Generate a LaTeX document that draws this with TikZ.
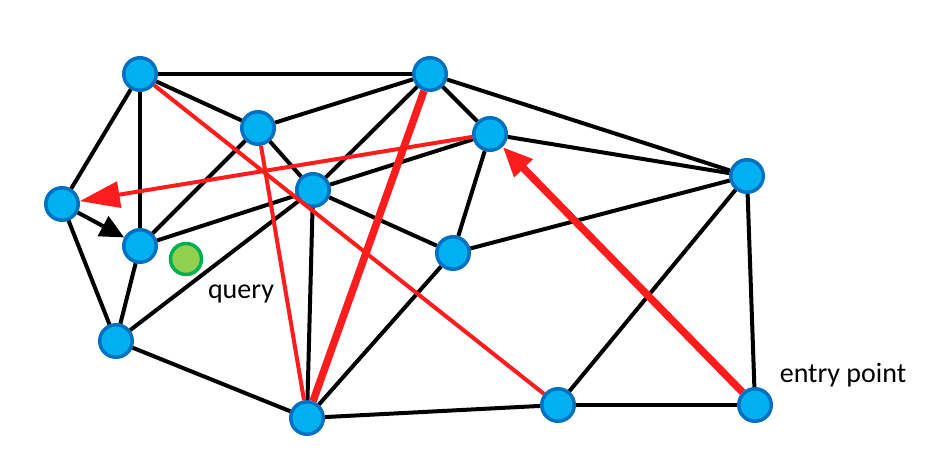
\documentclass[tikz,border=0pt]{standalone}
\usepackage{fontspec}
\setmainfont{Carlito}
\usetikzlibrary{arrows.meta}
\definecolor{nfill}{RGB}{0,176,240}
\definecolor{nline}{RGB}{0,112,192}
\definecolor{qfill}{RGB}{146,208,80}
\definecolor{qline}{RGB}{0,176,80}
\definecolor{rr}{RGB}{255,28,28}
\tikzset{
  vtx/.style={circle,fill=nfill,draw=nline,line width=3.5pt,minimum size=32.5pt,inner sep=0pt},
  qry/.style={circle,fill=qfill,draw=qline,line width=3.5pt,minimum size=31pt,inner sep=0pt},
  edge/.style={black,line width=4pt},
  redthin/.style={rr,line width=4pt},
  redthick/.style={rr,line width=7.5pt},
  lbl/.style={font=\fontsize{28}{30}\selectfont,inner sep=0pt}
}
\begin{document}
\begin{tikzpicture}[x=1pt,y=-1pt]
\useasboundingbox (0,0) rectangle (934,454);
% nodes
\node[vtx] (A) at (140,74) {};
\node[vtx] (B) at (430,74) {};
\node[vtx] (C) at (258,128) {};
\node[vtx] (D) at (490,134) {};
\node[vtx] (E) at (747,176) {};
\node[vtx] (F) at (62,204) {};
\node[vtx] (G) at (313,190) {};
\node[vtx] (H) at (140,246) {};
\node[vtx] (I) at (453,253) {};
\node[vtx] (J) at (116,341) {};
\node[vtx] (K) at (307,418) {};
\node[vtx] (L) at (558,405) {};
\node[vtx] (M) at (755,405) {};
\node[qry] (Q) at (186,259) {};
\node[lbl] (ql) at (241,294) {query};
\node[lbl] (el) at (843,375) {entry point};
% black edges
\draw[edge] (A) -- (B);
\draw[edge] (A) -- (F);
\draw[edge] (A) -- (H);
\draw[edge] (A) -- (C);
\draw[edge] (B) -- (C);
\draw[edge] (B) -- (G);
\draw[edge] (B) -- (D);
\draw[edge] (B) -- (E);
\draw[edge] (C) -- (G);
\draw[edge] (C) -- (H);
\draw[edge] (D) -- (G);
\draw[edge] (D) -- (I);
\draw[edge] (D) -- (E);
\draw[edge] (E) -- (I);
\draw[edge] (E) -- (L);
\draw[edge] (E) -- (M);
\draw[edge] (G) -- (H);
\draw[edge] (G) -- (I);
\draw[edge] (G) -- (K);
\draw[edge] (G) -- (J);
\draw[edge] (F) -- (J);
\draw[edge] (H) -- (J);
\draw[edge] (I) -- (K);
\draw[edge] (J) -- (K);
\draw[edge] (K) -- (L);
\draw[edge] (L) -- (M);
\draw[edge,-{Triangle[length=24pt,width=22pt]}] (F) -- (H);
% red edges
\draw[redthin] (A) -- (L);
\draw[redthin] (C) -- (K);
\draw[redthick] (B) -- (K);
\draw[redthin,-{Triangle[length=40pt,width=26pt]}] (D) -- (F);
\draw[redthick,-{Triangle[length=30pt,width=24pt]}] (M) -- (D);
\end{tikzpicture}
\end{document}
